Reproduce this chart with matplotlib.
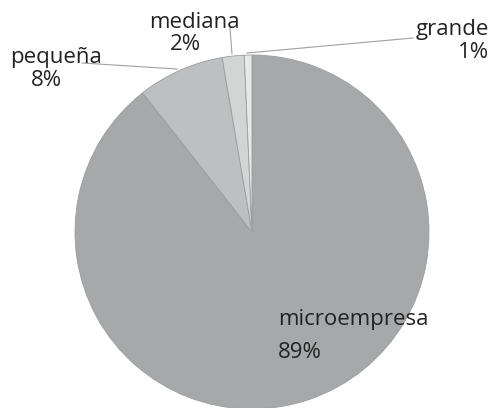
import matplotlib
matplotlib.use("Agg")
import matplotlib.pyplot as plt

# tamaño de empresa
categories = ['microempresa', 'pequeña', 'mediana', 'grande']
shares = [89.4, 7.9, 2.0, 0.7]
colors = ['#a6a8a9', '#bdbfc0', '#d3d5d5', '#e8e9e9']

plt.rcParams['font.family'] = ['Open Sans', 'DejaVu Sans']

fig = plt.figure(figsize=(4.92, 4.08), dpi=100)
ax = fig.add_axes([0, 0, 1, 1])

H = 408
cx, cy, r = 252, H - 232, 177
ax.pie(shares, colors=colors, startangle=90, counterclock=False,
       center=(cx, cy), radius=r,
       wedgeprops=dict(edgecolor='#9a9c9d', linewidth=0.6))

# pie() changes the limits, so set them afterwards
ax.set_xlim(0, 492)
ax.set_ylim(0, H)
ax.set_aspect('equal')
ax.axis('off')

fs = 16
tc = '#222222'
lc = '#a0a0a0'
pct = [f'{s:.0f}%' for s in shares]

# microempresa (inside the slice)
ax.text(278, H - 320, categories[0], fontsize=fs, color=tc, ha='left', va='center')
ax.text(278, H - 352, pct[0], fontsize=fs, color=tc, ha='left', va='center')
# pequeña
ax.text(56, H - 58, categories[1], fontsize=fs, color=tc, ha='center', va='center')
ax.text(46, H - 80, pct[1], fontsize=fs, color=tc, ha='center', va='center')
ax.plot([82, 177], [H - 63, H - 69], color=lc, lw=0.8)
# mediana
ax.text(194, H - 22, categories[2], fontsize=fs, color=tc, ha='center', va='center')
ax.text(185, H - 45, pct[2], fontsize=fs, color=tc, ha='center', va='center')
ax.plot([230, 232], [H - 28, H - 54], color=lc, lw=0.8)
# grande
ax.text(489, H - 30, categories[3], fontsize=fs, color=tc, ha='right', va='center')
ax.text(489, H - 53, pct[3], fontsize=fs, color=tc, ha='right', va='center')
ax.plot([413, 247], [H - 38, H - 53], color=lc, lw=0.8)

fig.savefig('out.png', dpi=100, facecolor='white')
